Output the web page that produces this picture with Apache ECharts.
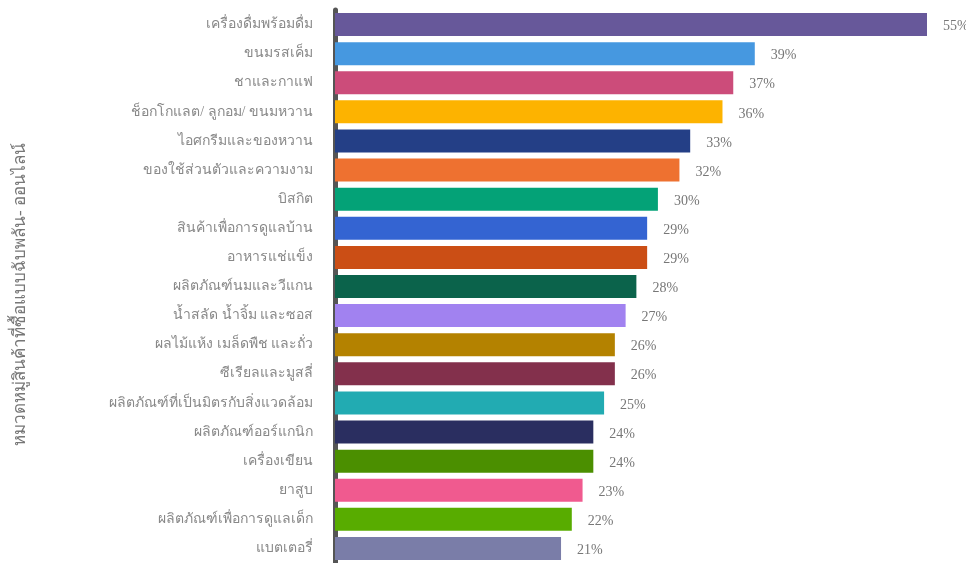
<!DOCTYPE html>
<html><head><meta charset="utf-8">
<script src="https://cdn.jsdelivr.net/npm/echarts@6/dist/echarts.min.js"></script>
<style>html,body{margin:0;padding:0;background:#fff}#c{width:966px;height:563px}</style>
</head><body><div id="c"></div>
<script>
const categories = ["เครื่องดื่มพร้อมดื่ม","ขนมรสเค็ม","ชาและกาแฟ","ช็อกโกแลต/ ลูกอม/ ขนมหวาน","ไอศกรีมและของหวาน","ของใช้ส่วนตัวและความงาม","บิสกิต","สินค้าเพื่อการดูแลบ้าน","อาหารแช่แข็ง","ผลิตภัณฑ์นมและวีแกน","น้ำสลัด น้ำจิ้ม และซอส","ผลไม้แห้ง เมล็ดพืช และถั่ว","ซีเรียลและมูสลี่","ผลิตภัณฑ์ที่เป็นมิตรกับสิ่งแวดล้อม","ผลิตภัณฑ์ออร์แกนิก","เครื่องเขียน","ยาสูบ","ผลิตภัณฑ์เพื่อการดูแลเด็ก","แบตเตอรี่"];
const values = [55,39,37,36,33,32,30,29,29,28,27,26,26,25,24,24,23,22,21];
const colors = ["#67589A","#4698E0","#CC4C7A","#FDB300","#243F86","#EE7130","#04A277","#3464D2","#CB4E15","#0B634B","#A182F0","#B48200","#83304C","#22ABB2","#2A2E60","#4B8F00","#F05A8F","#58AC00","#7A7DA8"];
const axisTitle = "หมวดหมู่สินค้าที่ซื้อแบบฉับพลัน- ออนไลน์";

const chart = echarts.init(document.getElementById('c'));
chart.setOption({
  animation: false,
  grid: {left: 335, top: 10, width: 592, height: 555, containLabel: false},
  xAxis: {type: 'value', min: 0, max: 55, show: false},
  yAxis: {
    type: 'category', data: categories, inverse: true,
    axisLine: {show: true, lineStyle: {color: '#555', width: 5}},
    axisTick: {show: false},
    axisLabel: {color: '#888', fontSize: 14, margin: 22, fontFamily: 'Liberation Serif, serif'},
    name: axisTitle, nameLocation: 'middle', nameRotate: 90, nameGap: 306,
    nameTextStyle: {color: '#777', fontSize: 17, fontFamily: 'Liberation Serif, serif', padding: [0, 16, 0, 0]}
  },
  series: [{
    type: 'bar', barWidth: 23,
    data: values.map((v, i) => ({value: v, itemStyle: {color: colors[i]}})),
    label: {show: true, position: 'right', distance: 16, offset: [0, 2], formatter: '{c}%', color: '#777', fontSize: 14, fontFamily: 'Liberation Serif, serif'}
  }]
});
</script></body></html>
